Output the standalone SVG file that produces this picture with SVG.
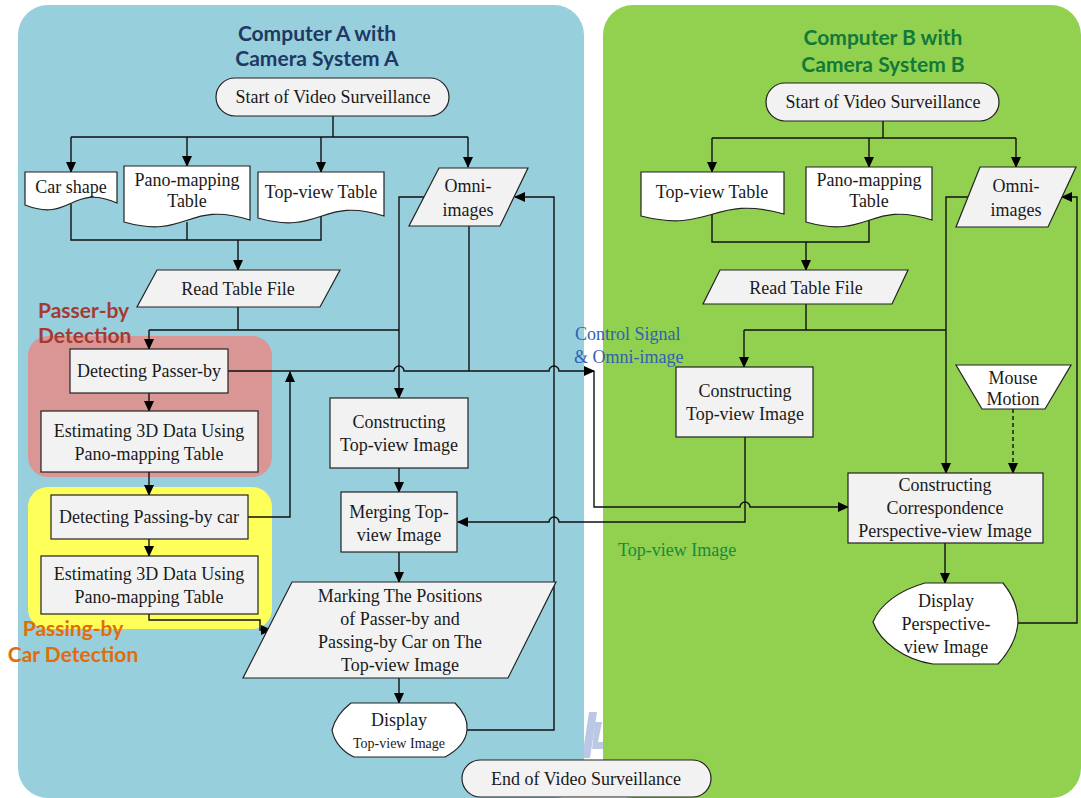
<svg xmlns="http://www.w3.org/2000/svg" width="1081" height="798" viewBox="0 0 1081 798">
  <defs>
    <marker id="arr" markerUnits="userSpaceOnUse" markerWidth="11" markerHeight="10" refX="10" refY="5" orient="auto">
      <path d="M0,0 L11,5 L0,10 Z" fill="#000"/>
    </marker>
    <style>
      .box{fill:#F2F2F2;stroke:#222;stroke-width:1.2}
      .doc{fill:#FFFFFF;stroke:#222;stroke-width:1.2}
      .t{font-family:"Liberation Serif","Times New Roman",serif;font-size:18px;fill:#1A1A1A;text-anchor:middle}
      .s{font-size:14px}
      .ln{fill:none;stroke:#111;stroke-width:1.4}
      .ar{marker-end:url(#arr)}
      .dash{stroke-dasharray:4 3}
      .title{font-family:Lato,"Liberation Sans",sans-serif;font-weight:bold;font-size:21px;text-anchor:middle}
      .zone{font-family:Lato,"Liberation Sans",sans-serif;font-weight:bold;font-size:21px}
      .lbl{font-family:"Liberation Serif","Times New Roman",serif;font-size:18px}
    </style>
  </defs>

  <!-- background panels -->
  <rect width="1081" height="798" fill="#FFFFFF"/>
  <g id="watermark" fill="#BCC7E5">
    <polygon points="589,712 597,712 590,758 582,758"/>
    <polygon points="595,722 602,722 598,742 603,742 603,749 592,749"/>
  </g>
  <rect id="panelA" x="18" y="5" width="566" height="793" rx="30" fill="#97CFDD"/>
  <rect id="panelB" x="603" y="5" width="478" height="793" rx="30" fill="#92D050"/>
  <rect id="zonePasser" x="28" y="336" width="244" height="141" rx="20" fill="#DA9694"/>
  <rect id="zoneCar" x="28" y="487" width="244" height="142" rx="20" fill="#FFFF59"/>

  <!-- panel titles and zone labels -->
  <g id="labels">
    <text class="title" x="317" y="41" fill="#1F3864">Computer A with</text>
    <text class="title" x="317" y="66" fill="#1F3864">Camera System A</text>
    <text class="title" x="883" y="45" fill="#117A3A">Computer B with</text>
    <text class="title" x="883" y="72" fill="#117A3A">Camera System B</text>
    <text class="zone" x="38" y="318" fill="#A53A31">Passer-by</text>
    <text class="zone" x="38" y="343" fill="#A53A31">Detection</text>
    <text class="zone" x="73" y="636" fill="#E36C0A" text-anchor="middle">Passing-by</text>
    <text class="zone" x="73" y="662" fill="#E36C0A" text-anchor="middle">Car Detection</text>
    <text class="lbl" x="575" y="340" fill="#2F62B6">Control Signal</text>
    <text class="lbl" x="574" y="363" fill="#2F62B6">&amp; Omni-image</text>
    <text class="lbl" x="618" y="556" fill="#178A3E">Top-view Image</text>
  </g>

  <!-- connectors -->
  <g id="connectors" class="ln">
    <!-- computer A -->
    <path d="M333,116 V137 M71,137 H468"/>
    <path class="ar" d="M71,137 V172"/>
    <path class="ar" d="M187,137 V166"/>
    <path class="ar" d="M321,137 V172"/>
    <path class="ar" d="M468,137 V167"/>
    <path d="M71,204 V240 H321 V212 M187,222 V240"/>
    <path class="ar" d="M238,240 V270"/>
    <path d="M238,307 V330 M149,330 H399"/>
    <path class="ar" d="M149,330 V349"/>
    <path class="ar" d="M426,197 H399 V398"/>
    <path d="M469,226 V371"/>
    <path class="ar" d="M228,371 H394 a5,5 0 0 1 10,0 H549 a5,5 0 0 1 10,0 H594"/>
    <path class="ar" d="M248,517 H290 V372"/>
    <path class="ar" d="M149,393 V411"/>
    <path class="ar" d="M149,472 V495"/>
    <path class="ar" d="M149,539 V556"/>
    <path class="ar" d="M149,614 V620 H260 V630 H271"/>
    <path class="ar" d="M399,468 V492"/>
    <path class="ar" d="M399,552 V582"/>
    <path class="ar" d="M399,678 V703"/>
    <path class="ar" d="M467,730 H554 V197 H515"/>
    <!-- links between the two computers -->
    <path class="ar" d="M745,437 V522 H559 a5,5 0 0 0 -10,0 H458"/>
    <path class="ar" d="M594,371 V507 H740 a5,5 0 0 1 10,0 H848"/>
    <!-- computer B -->
    <path d="M883,121 V138 M712,138 H1016"/>
    <path class="ar" d="M712,138 V172"/>
    <path class="ar" d="M869,138 V167"/>
    <path class="ar" d="M1016,138 V167"/>
    <path d="M712,212 V242 H869 V220"/>
    <path class="ar" d="M806,242 V270"/>
    <path d="M806,304 V330 M744,330 H946"/>
    <path class="ar" d="M744,330 V367"/>
    <path class="ar" d="M970,197 H946 V473"/>
    <path class="ar dash" d="M1013,409 V473"/>
    <path class="ar" d="M945,543 V583"/>
    <path class="ar" d="M1018,623 H1077 V197 H1062"/>
  </g>

  <!-- computer A nodes -->
  <g id="startA">
    <rect class="box" x="216" y="78" width="233" height="38" rx="19"/>
    <text class="t" x="333" y="103">Start of Video Surveillance</text>
  </g>
  <g id="carShapeA">
    <path class="doc" d="M25,172 H117 V203 C71,183 71,223 25,205 Z"/>
    <text class="t" x="71" y="193">Car shape</text>
  </g>
  <g id="panoTableA">
    <path class="doc" d="M124,166 H250 V220 C187,200 187,240 124,222 Z"/>
    <text class="t" x="187" y="186">Pano-mapping</text>
    <text class="t" x="187" y="207">Table</text>
  </g>
  <g id="topTableA">
    <path class="doc" d="M258,172 H384 V216 C321,196 321,236 258,218 Z"/>
    <text class="t" x="321" y="198">Top-view Table</text>
  </g>
  <g id="omniA">
    <polygon class="box" points="439,168 528,168 500,226 409,226"/>
    <text class="t" x="468" y="192">Omni-</text>
    <text class="t" x="468" y="216">images</text>
  </g>
  <g id="readTableA">
    <polygon class="box" points="157,270 340,270 320,307 137,307"/>
    <text class="t" x="238" y="295">Read Table File</text>
  </g>
  <g id="detectPasser">
    <rect class="box" x="70" y="349" width="158" height="44"/>
    <text class="t" x="149" y="377">Detecting Passer-by</text>
  </g>
  <g id="estimate1">
    <rect class="box" x="41" y="411" width="217" height="61"/>
    <text class="t" x="149" y="437">Estimating 3D Data Using</text>
    <text class="t" x="149" y="460">Pano-mapping Table</text>
  </g>
  <g id="detectCar">
    <rect class="box" x="51" y="495" width="197" height="44"/>
    <text class="t" x="149" y="523">Detecting Passing-by car</text>
  </g>
  <g id="estimate2">
    <rect class="box" x="41" y="556" width="217" height="58"/>
    <text class="t" x="149" y="580">Estimating 3D Data Using</text>
    <text class="t" x="149" y="603">Pano-mapping Table</text>
  </g>
  <g id="constructTopA">
    <rect class="box" x="330" y="398" width="138" height="70"/>
    <text class="t" x="399" y="428">Constructing</text>
    <text class="t" x="399" y="451">Top-view Image</text>
  </g>
  <g id="mergeTop">
    <rect class="box" x="341" y="492" width="116" height="60"/>
    <text class="t" x="399" y="518">Merging Top-</text>
    <text class="t" x="399" y="541">view Image</text>
  </g>
  <g id="markPositions">
    <polygon class="box" points="292,582 556,582 508,678 243,678"/>
    <text class="t" x="400" y="602">Marking The Positions</text>
    <text class="t" x="400" y="625">of Passer-by and</text>
    <text class="t" x="400" y="648">Passing-by Car on The</text>
    <text class="t" x="400" y="671">Top-view Image</text>
  </g>
  <g id="displayTopA">
    <path class="doc" d="M351,703 H455 C464,712 468,722 467,730 C466,742 458,750 445,757 H354 C343,752 334,742 332,730 C335,718 342,710 351,703 Z"/>
    <text class="t" x="399" y="726">Display</text>
    <text class="t s" x="399" y="748">Top-view Image</text>
  </g>
  <g id="endSurveillance">
    <rect class="box" x="462" y="760" width="249" height="37" rx="18.5"/>
    <text class="t" x="586" y="785">End of Video Surveillance</text>
  </g>

  <!-- computer B nodes -->
  <g id="startB">
    <rect class="box" x="766" y="83" width="233" height="38" rx="19"/>
    <text class="t" x="883" y="108">Start of Video Surveillance</text>
  </g>
  <g id="topTableB">
    <path class="doc" d="M641,172 H784 V214 C712,194 712,234 641,216 Z"/>
    <text class="t" x="712" y="198">Top-view Table</text>
  </g>
  <g id="panoTableB">
    <path class="doc" d="M806,167 H932 V220 C869,200 869,240 806,222 Z"/>
    <text class="t" x="869" y="186">Pano-mapping</text>
    <text class="t" x="869" y="207">Table</text>
  </g>
  <g id="omniB">
    <polygon class="box" points="980,167 1076,167 1048,227 956,227"/>
    <text class="t" x="1016" y="192">Omni-</text>
    <text class="t" x="1016" y="216">images</text>
  </g>
  <g id="readTableB">
    <polygon class="box" points="720,270 908,270 892,304 703,304"/>
    <text class="t" x="806" y="294">Read Table File</text>
  </g>
  <g id="constructTopB">
    <rect class="box" x="676" y="367" width="137" height="70"/>
    <text class="t" x="745" y="397">Constructing</text>
    <text class="t" x="745" y="420">Top-view Image</text>
  </g>
  <g id="mouseMotion">
    <polygon class="doc" points="956,365 1071,365 1045,409 982,409"/>
    <text class="t" x="1013" y="384">Mouse</text>
    <text class="t" x="1013" y="405">Motion</text>
  </g>
  <g id="constructPerspective">
    <rect class="box" x="848" y="473" width="195" height="70"/>
    <text class="t" x="945" y="491">Constructing</text>
    <text class="t" x="945" y="514">Correspondence</text>
    <text class="t" x="945" y="537">Perspective-view Image</text>
  </g>
  <g id="displayPerspective">
    <path class="doc" d="M925,583 H1003 C1012,594 1018,608 1018,622 C1017,638 1009,652 998,664 H933 C905,660 880,642 873,622 C880,604 900,590 925,583 Z"/>
    <text class="t" x="946" y="607">Display</text>
    <text class="t" x="946" y="630">Perspective-</text>
    <text class="t" x="946" y="653">view Image</text>
  </g>
</svg>
